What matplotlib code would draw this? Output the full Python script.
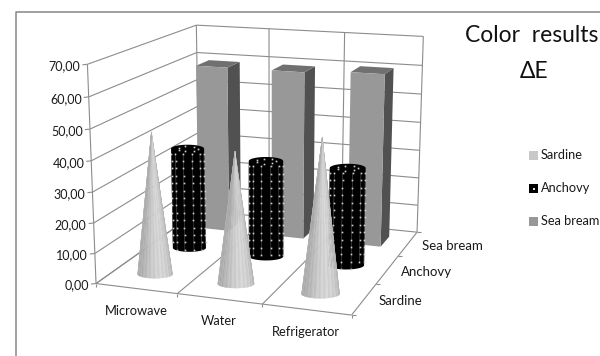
import numpy as np
import matplotlib
matplotlib.use('Agg')
import matplotlib.pyplot as plt
from matplotlib.patches import Polygon, Rectangle

plt.rcParams['font.family'] = ['Lato', 'DejaVu Sans']

categories = ['Microwave', 'Water', 'Refrigerator']
series = ['Sardine', 'Anchovy', 'Sea bream']
sardine = [47.0, 43.0, 49.5]
anchovy = [35.0, 33.0, 33.0]
sea_bream = [59.0, 59.0, 60.0]
ticks = [0, 10, 20, 30, 40, 50, 60, 70]
tick_labels = ['0,00', '10,00', '20,00', '30,00', '40,00', '50,00', '60,00', '70,00']

GRID = '#8c8c8c'
W = 0.42
R = 0.22

# box corners (cat, depth, value) -> pixel, fit one projective map to them
box = [(0, 0, 0), (3, 0, 0), (3, 3, 0), (0, 3, 0), (0, 0, 70), (0, 3, 70), (3, 3, 70)]
pix = [(96, 281), (352, 317), (417, 230), (199, 213), (87, 65), (197, 24), (423, 37)]
rows = []
for (a, b, c), (u, v) in zip(box, pix):
    c = c / 10
    rows.append([a, b, c, 1, 0, 0, 0, 0, -u * a, -u * b, -u * c, -u])
    rows.append([0, 0, 0, 0, a, b, c, 1, -v * a, -v * b, -v * c, -v])
H = np.linalg.svd(np.array(rows, float))[2][-1].reshape(3, 4)


def P(x, d, z):
    w = H @ np.array([x, d, z / 10, 1.0])
    return w[0] / w[2], w[1] / w[2]


fig = plt.figure(figsize=(6, 3.56), dpi=100)
ax = fig.add_axes([0, 0, 1, 1])
ax.set_xlim(0, 600)
ax.set_ylim(356, 0)
ax.axis('off')


def line(a, b, lw=0.8, color=GRID, zorder=1):
    ax.plot([a[0], b[0]], [a[1], b[1]], color=color, lw=lw, zorder=zorder, solid_capstyle='butt')


# outer frame of the chart area
ax.plot([16, 16, 600], [356, 12, 12], color='#868686', lw=1.1, zorder=1)

# walls and floor
for t in ticks:
    line(P(0, 0, t), P(0, 3, t))
    line(P(0, 3, t), P(3, 3, t))
    line(P(0, 0, t), (P(0, 0, t)[0] - 5, P(0, 0, t)[1] + 0.5))
for i in range(4):
    line(P(i, 3, 0), P(i, 3, 70))
    line(P(i, 0, 0), P(i, 3, 0))
    line(P(i, 0, 0), (P(i, 0, 0)[0], P(i, 0, 0)[1] + 3))
line(P(0, 0, 0), P(3, 0, 0))
line(P(0, 0, 0), P(0, 0, 70))
for i in range(4):
    a = P(3, i, 0)
    line(a, (a[0] + 4, a[1]))


def draw_bar(x, d, v, z):
    x0, x1 = x - W / 2, x + W / 2
    d0, d1 = d - W / 2, d + W / 2
    top = [P(x0, d0, v), P(x1, d0, v), P(x1, d1, v), P(x0, d1, v)]
    side = [P(x1, d0, 0), P(x1, d1, 0), P(x1, d1, v), P(x1, d0, v)]
    front = [P(x0, d0, 0), P(x1, d0, 0), P(x1, d0, v), P(x0, d0, v)]
    ax.add_patch(Polygon(side, fc='#515151', ec='none', zorder=z))
    ax.add_patch(Polygon(top, fc='#707070', ec='none', zorder=z))
    ax.add_patch(Polygon(front, fc='#989898', ec='none', zorder=z))


def radius(x, d):
    return (P(x + R, d, 0)[0] - P(x - R, d, 0)[0]) / 2


def draw_cylinder(x, d, v, z):
    bx, by = P(x, d, 0)
    tx, ty = P(x, d, v)
    rx = radius(x, d)
    ry = rx * 0.24
    th = np.linspace(0, np.pi, 40)
    body = list(zip(bx + rx * np.cos(th), by + ry * np.sin(th))) + \
        list(zip(tx - rx * np.cos(th), ty - ry * np.sin(th)))
    ax.add_patch(Polygon(body, fc='#000000', ec='none', zorder=z))
    for a in np.linspace(0.18, np.pi - 0.18, 6):
        ys = np.arange(ty + 5, by + ry * np.sin(a), 7.4)
        xs = tx + (bx - tx) * (ys - ty) / (by - ty) + rx * np.cos(a)
        ax.plot(xs, ys, color='#555555', lw=0.4, zorder=z + 0.05)
        ax.plot(xs, ys, ls='none', marker='s', ms=1.2, mew=0, color='#cfcfcf', zorder=z + 0.1)
    for a in np.linspace(0, 2 * np.pi, 8)[:-1]:
        ax.plot(tx + rx * 0.6 * np.cos(a), ty + ry * 0.6 * np.sin(a), ls='none', marker='s',
                ms=1.2, mew=0, color='#cfcfcf', zorder=z + 0.1)


def draw_cone(x, d, v, z):
    bx, by = P(x, d, 0)
    tx, ty = P(x, d, v)
    rx = radius(x, d)
    ry = rx * 0.24
    th = np.linspace(0, np.pi, 25)
    for i in range(len(th) - 1):
        mid = (th[i] + th[i + 1]) / 2
        shade = 0.67 + 0.16 * np.sin(mid + 0.35) ** 2 + (0.02 if i % 2 else -0.02)
        poly = [(bx + rx * np.cos(th[i]), by + ry * np.sin(th[i])),
                (bx + rx * np.cos(th[i + 1]), by + ry * np.sin(th[i + 1])),
                (tx, ty)]
        col = str(min(shade, 1))
        ax.add_patch(Polygon(poly, fc=col, ec=col, lw=0.3, zorder=z))


z = 3
for c, v in enumerate(sea_bream):
    draw_bar(c + 0.5, 2.5, v, z)
    z += 1
for c, v in enumerate(anchovy):
    draw_cylinder(c + 0.5, 1.5, v, z)
    z += 1
for c, v in enumerate(sardine):
    draw_cone(c + 0.5, 0.5, v, z)
    z += 1

# value labels
for t, s in zip(ticks, tick_labels):
    px, py = P(0, 0, t)
    ax.text(px - 7, py + 2, s, ha='right', va='center', fontsize=9, color='#1a1a1a')

# category labels
for i, s, off in zip(range(3), categories, [0, -1, -1]):
    px, py = P(i + 0.5, 0, 0)
    ax.text(px + off, py + 22, s, ha='center', va='center', fontsize=9.3, color='#1a1a1a')

# depth labels
for i, s in enumerate(series):
    px, py = P(3, i + 0.5, 0)
    ax.text(px + 14, py + 2, s, ha='left', va='center', fontsize=9.5, color='#1a1a1a')

# title
ax.text(532, 36, 'Color  results', ha='center', va='center', fontsize=16.5, color='#111111')
ax.text(534, 72, 'ΔE', ha='center', va='center', fontsize=16.5, color='#111111')

# legend
leg_colors = ['#c8c8c8', '#000000', '#989898']
for s, col, y in zip(series, leg_colors, [155, 188, 221]):
    ax.add_patch(Rectangle((529, y - 4.5), 9, 9, fc=col, ec='none', zorder=5))
    if col == '#000000':
        ax.plot(534, y + 1, ls='none', marker='s', ms=1.5, mew=0, color='#e0e0e0', zorder=6)
    ax.text(541, y, s, ha='left', va='center', fontsize=9.2, color='#1a1a1a', clip_on=True)

fig.savefig('out.png', dpi=100)
